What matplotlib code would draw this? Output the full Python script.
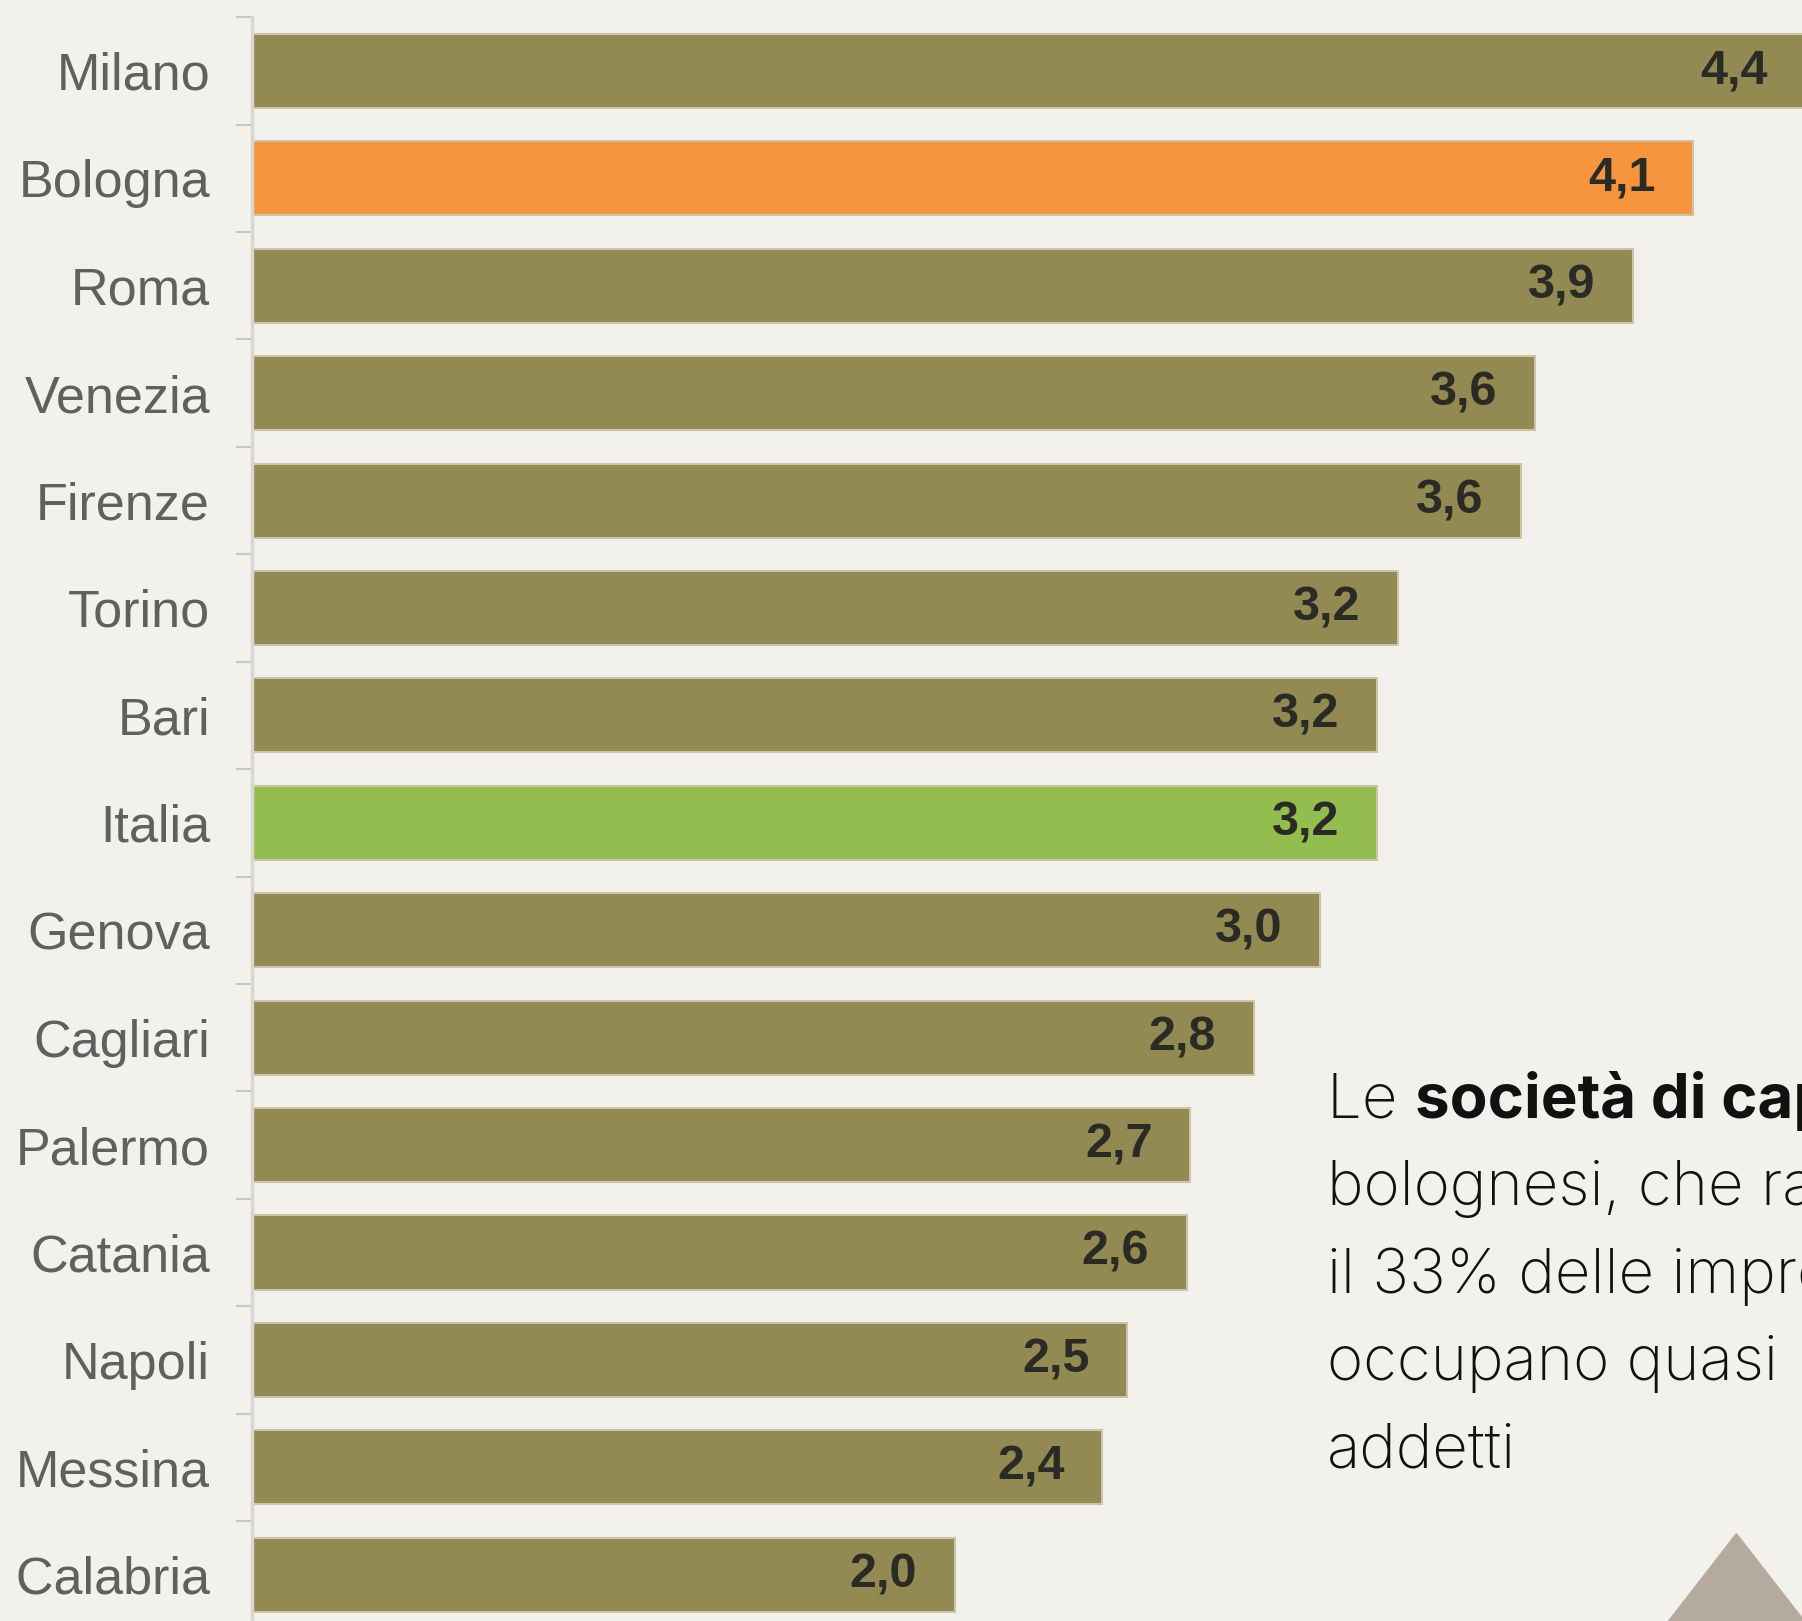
import matplotlib.pyplot as plt
from matplotlib.patches import Polygon

# Data
cities = ["Milano", "Bologna", "Roma", "Venezia", "Firenze", "Torino", "Bari",
          "Italia", "Genova", "Cagliari", "Palermo", "Catania", "Napoli",
          "Messina", "Reggio Calabria"]
values = [4.42, 4.10, 3.93, 3.65, 3.61, 3.26, 3.20, 3.20, 3.04, 2.85, 2.67,
          2.66, 2.49, 2.42, 2.00]
value_labels = ["4,4", "4,1", "3,9", "3,6", "3,6", "3,2", "3,2", "3,2", "3,0",
                "2,8", "2,7", "2,6", "2,5", "2,4", "2,0"]
highlight = {"Bologna": "#f7943e", "Italia": "#93be4f"}

bg = "#f3f1ec"
olive = "#938952"

fig = plt.figure(figsize=(18.02, 16.21), dpi=100, facecolor=bg)
ax = fig.add_axes([0.1397, -0.0046, 1 - 0.1397, 0.9940])
ax.set_facecolor(bg)

colors = [highlight.get(c, olive) for c in cities]
pos = list(range(len(cities)))
bars = ax.barh(pos, values, height=0.69, color=colors, edgecolor="#cbc5a8",
               linewidth=1.5)

for b, lab in zip(bars, value_labels):
    ax.annotate(lab, (b.get_width(), b.get_y() + b.get_height() / 2),
                xytext=(-27, 0), textcoords="offset points", ha="right",
                va="center", fontsize=35, fontweight="bold", color="#2b2b25",
                family=["Liberation Sans", "DejaVu Sans"],
                annotation_clip=False)

ax.set_xlim(0, 4.41)
ax.set_ylim(len(cities) - 0.5, -0.5)
ax.set_xticks([])
ax.set_yticks(pos)
ax.set_yticklabels(cities, fontsize=37.5, color="#606060",
                   family=["Liberation Sans", "DejaVu Sans"])
ax.tick_params(axis="y", which="major", length=0, pad=30)
ax.set_yticks([p - 0.5 for p in pos] + [len(cities) - 0.5], minor=True)
ax.tick_params(axis="y", which="minor", length=11.5, width=1.5,
               color="#c9c6c6")
for s in ["top", "right", "bottom"]:
    ax.spines[s].set_visible(False)
ax.spines["left"].set_color("#d9d5d0")
ax.spines["left"].set_linewidth(2.5)

# side note
renderer = fig.canvas.get_renderer()
W = fig.bbox.width
tx = 0.7366
lines = ["bolognesi, che rappresentano", "il 33% delle imprese,",
         "occupano quasi  il 70% degli", "addetti"]
tfont = dict(fontsize=44.5, color="#111111", family=["Inter", "DejaVu Sans"])
t1 = fig.text(tx, 0.3105, "Le ", fontweight="light", **tfont)
bb = t1.get_window_extent(renderer)
fig.text(bb.x1 / W, 0.3105, "società di capitali", fontweight="bold", **tfont)
for i, line in enumerate(lines):
    fig.text(tx, 0.3105 - 0.0540 * (i + 1), line, fontweight="light", **tfont)

tri = Polygon([(0.926, 0.0), (0.9636, 0.0539), (1.0013, 0.0)],
              closed=True, transform=fig.transFigure, color="#b5aa9e")
fig.patches.append(tri)

fig.savefig("out.png", dpi=100, facecolor=bg)
